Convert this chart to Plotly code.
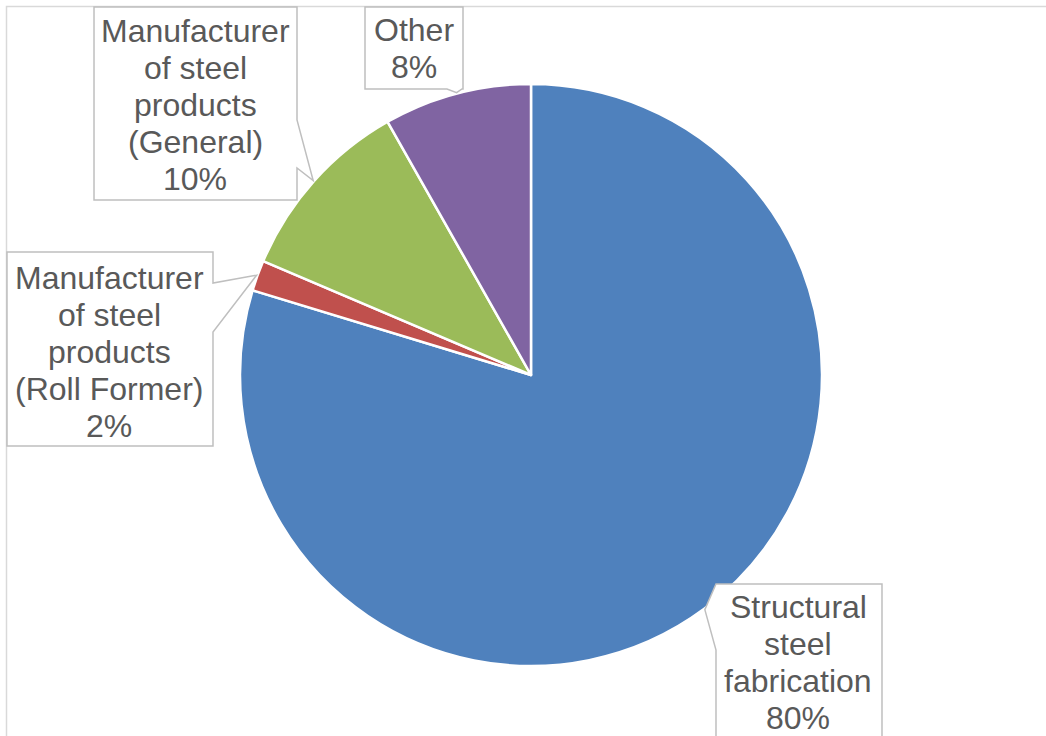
import math
import plotly.graph_objects as go

# ---- data ----
categories = [
    "Structural steel fabrication",
    "Manufacturer of steel products (Roll Former)",
    "Manufacturer of steel products (General)",
    "Other",
]
values = [79.7, 1.7, 10.4, 8.2]
label_lines = [
    ["Structural", "steel", "fabrication"],
    ["Manufacturer", "of steel", "products", "(Roll Former)"],
    ["Manufacturer", "of steel", "products", "(General)"],
    ["Other"],
]
colors = ["#4F81BD", "#C0504D", "#9BBB59", "#8064A2"]

# ---- layout (pixels) ----
W, H = 1046, 736
CX, CY, R = 531, 375, 291
FONT = "Arial, Liberation Sans, sans-serif"
TXT = "#595959"
LINE = "#BFBFBF"

def px(x):
    return x / W

def py(y):
    return 1 - y / H

fig = go.Figure()
fig.add_trace(go.Pie(
    labels=categories, values=values, sort=False, direction="clockwise",
    rotation=0, textinfo="none", hoverinfo="label+percent",
    marker=dict(colors=colors, line=dict(color="white", width=2.5)),
    domain=dict(x=[px(CX - R), px(CX + R)], y=[py(CY + R), py(CY - R)]),
    showlegend=False,
))

total = sum(values)
cum = 0.0
tips = []
for v in values:
    mid = (cum + v / 2) / total * 2 * math.pi
    cum += v
    tips.append((CX + (R + 1) * math.sin(mid), CY - (R + 1) * math.cos(mid)))

# callout boxes: (x0, y0, x1, y1), tail side, tail start, tail end, text center x, first line y
boxes = [
    ((716, 584, 882, 780), "left", 584, 650, 798, 607),
    ((7, 252, 213, 446), "right", 283, 332, 109, 278),
    ((94, 7, 297, 200), "right", 120, 168, 195, 31),
    ((365, 7, 463, 89), "bottom", 447, 462, 414, 30),
]
LH = 37

shapes = []
# chart area border
shapes.append(dict(type="rect", xref="paper", yref="paper",
                   x0=px(6.5), y0=py(6.5), x1=px(1200), y1=py(900),
                   line=dict(color="#D9D9D9", width=1.5), fillcolor="rgba(0,0,0,0)", layer="below"))

annotations = []
for i, ((x0, y0, x1, y1), side, a, b, tx, ty) in enumerate(boxes):
    tipx, tipy = tips[i]
    if side == "left":
        pts = [(x0, y0), (x1, y0), (x1, y1), (x0, y1), (x0, b), (tipx, tipy), (x0, a)]
    elif side == "right":
        pts = [(x0, y0), (x1, y0), (x1, a), (tipx, tipy), (x1, b), (x1, y1), (x0, y1)]
    else:  # bottom
        pts = [(x0, y0), (x1, y0), (x1, y1), (b, y1), (tipx, tipy), (a, y1), (x0, y1)]
    path = "M " + " L ".join(f"{px(x):.5f},{py(y):.5f}" for x, y in pts) + " Z"
    shapes.append(dict(type="path", xref="paper", yref="paper", path=path,
                       line=dict(color=LINE, width=1.5), fillcolor="white"))
    pct = round(values[i] / total * 100)
    lines = label_lines[i] + [f"{pct}%"]
    for k, t in enumerate(lines):
        annotations.append(dict(
            text=t, x=px(tx), y=py(ty + k * LH), xref="paper", yref="paper",
            xanchor="center", yanchor="middle", showarrow=False,
            font=dict(family=FONT, size=32, color=TXT),
        ))

fig.update_layout(
    width=W, height=H, margin=dict(l=0, r=0, t=0, b=0),
    paper_bgcolor="white", plot_bgcolor="white",
    shapes=shapes, annotations=annotations,
)
fig.write_html("out.html", config={"displayModeBar": False},
               post_script="document.body.style.margin='0';")
